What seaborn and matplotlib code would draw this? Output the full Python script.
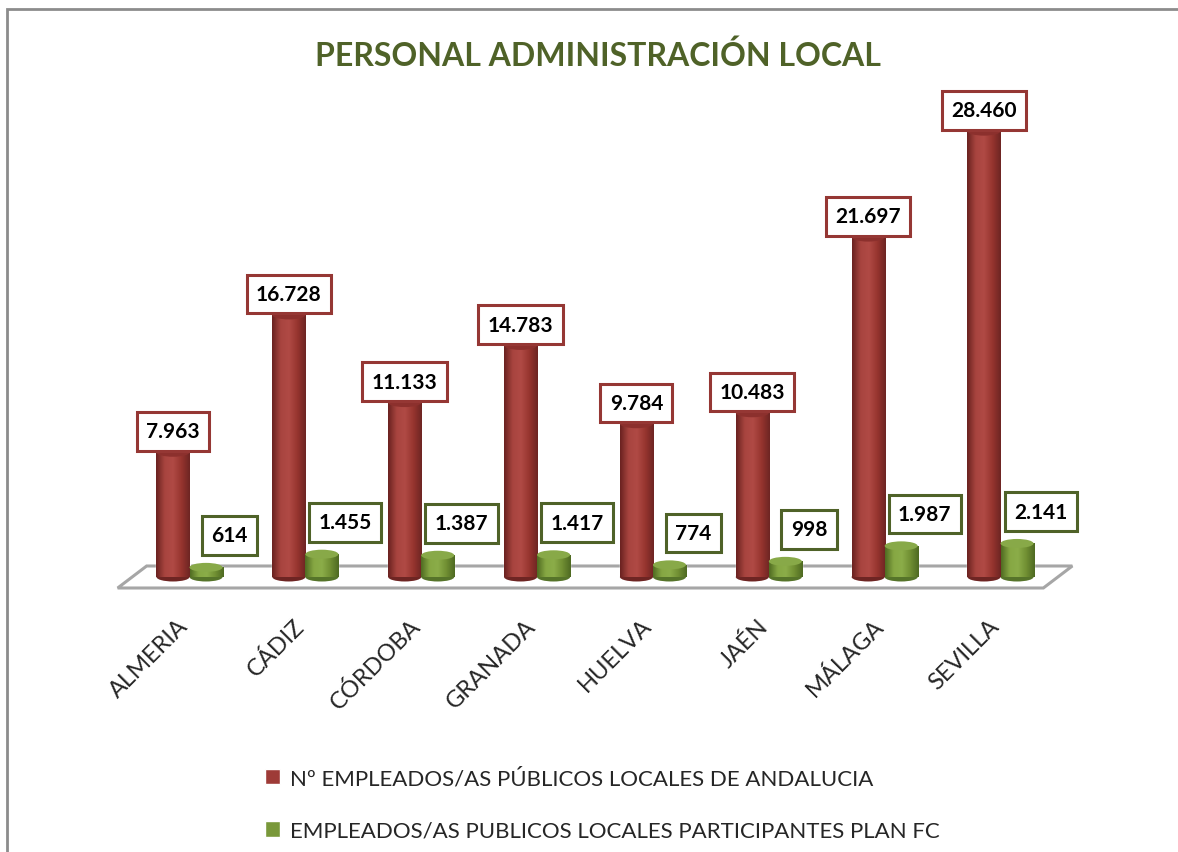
import numpy as np
import pandas as pd
import matplotlib
matplotlib.use("Agg")
import matplotlib.pyplot as plt
import matplotlib.transforms as mtransforms
import seaborn as sns
from matplotlib.patches import Ellipse, Polygon, Rectangle, Patch
from matplotlib.colors import LinearSegmentedColormap

# data
provincias = ["ALMERIA", "CÁDIZ", "CÓRDOBA", "GRANADA", "HUELVA", "JAÉN", "MÁLAGA", "SEVILLA"]
empleados = [7963, 16728, 11133, 14783, 9784, 10483, 21697, 28460]
participantes = [614, 1455, 1387, 1417, 774, 998, 1987, 2141]
serie_total = "Nº EMPLEADOS/AS PÚBLICOS LOCALES DE ANDALUCIA"
serie_fc = "EMPLEADOS/AS PUBLICOS LOCALES PARTICIPANTES PLAN FC"

rojo = "#9e3b37"
verde = "#79983a"
borde_rojo = "#953734"
borde_verde = "#4f6228"

df = pd.DataFrame({
    "provincia": provincias * 2,
    "valor": empleados + participantes,
    "serie": [serie_total] * len(provincias) + [serie_fc] * len(provincias),
})


def fmt(v):
    return f"{v:,}".replace(",", ".")


sns.set_style("white")
plt.rcParams["font.family"] = ["Lato", "DejaVu Sans"]

fig = plt.figure(figsize=(11.78, 8.53), dpi=100)
ax = fig.add_axes([0.1117, 0.3224, 0.7868, 0.5877])

sns.barplot(data=df, x="provincia", y="valor", hue="serie", palette=[rojo, verde],
            width=0.57, legend=False, ax=ax, zorder=3)

ax.set_xlim(-0.5, len(provincias) - 0.5)
ax.set_ylim(0, 32000)
fig.canvas.draw()
ppu = ax.transData.transform((0, 1))[1] - ax.transData.transform((0, 0))[1]
cap = 9 / ppu  # ellipse height in data units

# floor of the 3d chart
depth = 11 / ppu
floor = Polygon([(-0.37, depth), (7.62, depth), (7.37, -depth), (-0.62, -depth)],
                closed=True, fc="white", ec="#a6a6a6", lw=2.2, zorder=1, clip_on=False)
ax.add_patch(floor)

cmaps = [
    LinearSegmentedColormap.from_list("r", ["#6a2220", "#a8443f", "#b04a45", "#97352f", "#6e2523"]),
    LinearSegmentedColormap.from_list("g", ["#506c22", "#86a743", "#8bad49", "#718f33", "#4e6a22"]),
]
tops = ["#8c302d", "#88a948"]
bottoms = ["#6e2523", "#56742a"]
grad = np.linspace(0, 1, 64).reshape(1, -1)

for cont, cmap, top, bot in zip(ax.containers, cmaps, tops, bottoms):
    for bar in cont:
        x, w, h = bar.get_x(), bar.get_width(), bar.get_height()
        im = ax.imshow(grad, extent=[x, x + w, 0, h], cmap=cmap, aspect="auto",
                       zorder=3.1, interpolation="bicubic")
        im.set_clip_path(bar)
        ax.add_patch(Ellipse((x + w / 2, 0), w, cap, fc=bot, ec="none", zorder=2.9, clip_on=False))
        ax.add_patch(Ellipse((x + w / 2, h), w, cap, fc=top, ec="none", zorder=3.2, clip_on=False))

ax.set_xlim(-0.5, len(provincias) - 0.5)
ax.set_ylim(0, 32000)

# value boxes
for cont, vals, col, dx, dy in zip(ax.containers, [empleados, participantes],
                                   [borde_rojo, borde_verde], [0, 17], [15, 23]):
    for bar, v in zip(cont, vals):
        ax.annotate(fmt(v), xy=(bar.get_x() + bar.get_width() / 2, bar.get_height()),
                    xytext=(dx, dy), textcoords="offset points", ha="center", va="center",
                    fontsize=15, fontweight="bold", color="black", zorder=5,
                    annotation_clip=False,
                    bbox=dict(boxstyle="square,pad=0.45", fc="white", ec=col, lw=2.2))

ax.set_xlabel("")
ax.set_ylabel("")
ax.set_yticks([])
for s in ax.spines.values():
    s.set_visible(False)
ax.tick_params(axis="x", length=0, pad=27, labelsize=17)
shift = mtransforms.ScaledTranslation(-12 / 100, 0, fig.dpi_scale_trans)
for lab in ax.get_xticklabels():
    lab.set_rotation(45)
    lab.set_ha("right")
    lab.set_rotation_mode("anchor")
    lab.set_transform(lab.get_transform() + shift)

fig.text(0.508, 0.935, "PERSONAL ADMINISTRACIÓN LOCAL", ha="center", va="center",
         fontsize=23, fontweight="bold", color="#4f6228")

fig.legend(handles=[Patch(fc=rojo), Patch(fc=verde)], labels=[serie_total, serie_fc],
           loc="upper left", bbox_to_anchor=(256 / 1178, 1 - 760 / 853), frameon=False,
           fontsize=16, handlelength=0.7, handleheight=0.7, handletextpad=0.45,
           labelspacing=1.45, borderaxespad=0)

# outer frame of the chart
fig.add_artist(Rectangle((7 / 1178, -0.1), 2, 1.1 - 10 / 853, transform=fig.transFigure,
                         fill=False, ec="#8c8c8c", lw=2))

fig.savefig("out.png", dpi=100)
